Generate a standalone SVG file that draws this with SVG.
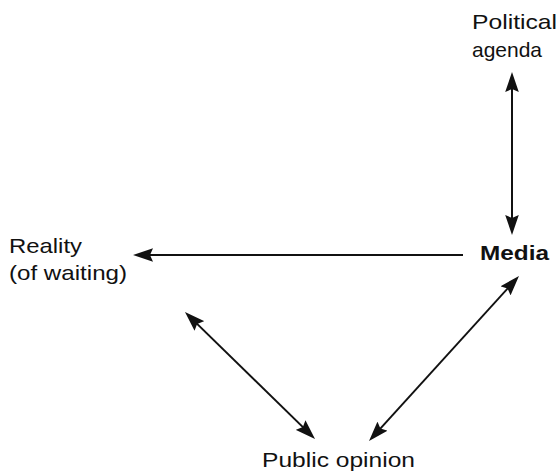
<svg xmlns="http://www.w3.org/2000/svg" width="558" height="473" viewBox="0 0 558 473">
<style>
.t{font-family:"Liberation Sans",Arial,sans-serif;font-size:21px;fill:#111}
.b{font-weight:bold}
.c{stroke:#111;stroke-width:2;fill:none}
</style>
<defs>
<marker id="ah" markerUnits="userSpaceOnUse" viewBox="0 -7 20 14" markerWidth="20" markerHeight="14" refX="12" refY="0" orient="auto-start-reverse">
<path d="M20,0 L0,-6.8 L3,0 L0,6.8 Z" fill="#111"/>
</marker>
</defs>
<rect width="558" height="473" fill="#fff"/>
<g id="political-agenda">
<text class="t" x="472" y="29" textLength="85" lengthAdjust="spacingAndGlyphs">Political</text>
<text class="t" x="472" y="57" textLength="70">agenda</text>
</g>
<g id="media">
<text class="t b" x="480" y="260" textLength="69" lengthAdjust="spacingAndGlyphs">Media</text>
</g>
<g id="reality">
<text class="t" x="9" y="253" textLength="73" lengthAdjust="spacingAndGlyphs">Reality</text>
<text class="t" x="9" y="280" textLength="118" lengthAdjust="spacingAndGlyphs">(of waiting)</text>
</g>
<g id="public-opinion">
<text class="t" x="262" y="467" textLength="153" lengthAdjust="spacingAndGlyphs">Public opinion</text>
</g>
<g id="connectors">
<line class="c" x1="512" y1="80" x2="512" y2="227" marker-start="url(#ah)" marker-end="url(#ah)"/>
<line class="c" x1="463" y1="255" x2="141" y2="255" marker-end="url(#ah)"/>
<line class="c" x1="190.7" y1="317.6" x2="309.3" y2="433.4" marker-start="url(#ah)" marker-end="url(#ah)"/>
<line class="c" x1="513.6" y1="281.9" x2="374.4" y2="435.1" marker-start="url(#ah)" marker-end="url(#ah)"/>
</g>
</svg>
